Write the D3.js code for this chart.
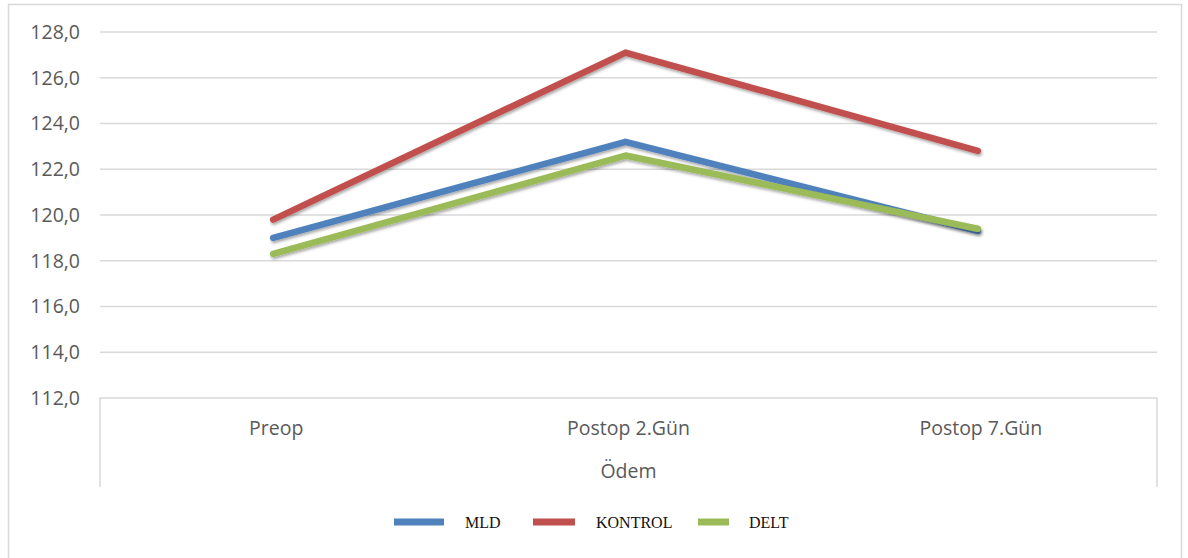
<!DOCTYPE html>
<html><head><meta charset="utf-8">
<script src="https://cdn.jsdelivr.net/npm/d3@7"></script>
<style>body{margin:0;background:#fff}svg{display:block}</style>
</head><body>
<svg id="c" width="1188" height="558"></svg>
<script>
const categories = ["Preop", "Postop 2.Gün", "Postop 7.Gün"];
const seriesNames = ["MLD", "KONTROL", "DELT"];
const MLD = [119.0, 123.2, 119.3];
const KONTROL = [119.8, 127.1, 122.8];
const DELT = [118.3, 122.6, 119.4];
const yTicks = [112, 114, 116, 118, 120, 122, 124, 126, 128];
const axisTitle = "Ödem";
const colors = ["#4F81BD", "#C0504D", "#9BBB59"];

const series = [MLD, KONTROL, DELT].map((v, i) => ({name: seriesNames[i], values: v, color: colors[i]}));

const svg = d3.select("#c");
const L = 100, R = 1157, T = 32, B = 398;
const fmt = d => d.toFixed(1).replace(".", ",");
const font = "'Open Sans', sans-serif";

// outer border
svg.append("path").attr("d", "M8.5,560 V4.5 H1181.5 V560").attr("fill", "none").attr("stroke", "#d9d9d9").attr("stroke-width", 1.5);

const x = d3.scaleBand().domain(categories).range([L, R]);
const y = d3.scaleLinear().domain([112, 128]).range([B, T]);

// gridlines
svg.append("g").selectAll("line").data(yTicks.filter(t => t > 112)).join("line")
  .attr("x1", L).attr("x2", R).attr("y1", d => y(d)).attr("y2", d => y(d))
  .attr("stroke", "#d9d9d9").attr("stroke-width", 1.5);

// y axis labels
const ya = svg.append("g").attr("transform", `translate(${L},0)`)
  .call(d3.axisLeft(y).tickValues(yTicks).tickFormat(fmt).tickSize(0).tickPadding(20));
ya.select(".domain").remove();
ya.selectAll("text").attr("font-family", font).attr("font-size", 19.5).attr("fill", "#595959");

// category axis box
svg.append("path").attr("d", `M${L},487 V${B} H${R} V487`).attr("fill", "none").attr("stroke", "#d9d9d9").attr("stroke-width", 1.5);
const xa = svg.append("g").attr("transform", `translate(0,${B})`)
  .call(d3.axisBottom(x).tickSize(0).tickPadding(23));
xa.select(".domain").remove();
xa.selectAll("text").attr("font-family", font).attr("font-size", 19.5).attr("fill", "#595959");
svg.append("text").attr("x", (L + R) / 2).attr("y", 478).attr("text-anchor", "middle")
  .attr("font-family", font).attr("font-size", 19.5).attr("fill", "#595959").text(axisTitle);

// lines
const line = d3.line().x((d, i) => x(categories[i]) + x.bandwidth() / 2 - 3).y(d => y(d));
const defs = svg.append("defs");
defs.append("filter").attr("id", "sh").attr("x", "-10%").attr("y", "-10%").attr("width", "120%").attr("height", "130%")
  .append("feDropShadow").attr("dx", 1).attr("dy", 2).attr("stdDeviation", 1.5).attr("flood-color", "#000").attr("flood-opacity", 0.35);
const lg = svg.append("g");
[0, 2, 1].forEach(i => {
  const s = series[i];
  lg.append("path").attr("d", line(s.values)).attr("fill", "none").attr("stroke", s.color)
    .attr("stroke-width", 6.5).attr("stroke-linecap", "round").attr("stroke-linejoin", "round")
    .attr("filter", "url(#sh)");
});

// legend
const legX = [394, 533, 698], legW = [50, 42, 31], legT = [465, 596, 749];
const leg = svg.append("g");
series.forEach((s, i) => {
  leg.append("line").attr("x1", legX[i]).attr("x2", legX[i] + legW[i]).attr("y1", 522).attr("y2", 522)
    .attr("stroke", s.color).attr("stroke-width", 7);
  leg.append("text").attr("x", legT[i]).attr("y", 527.5).attr("font-family", "'Liberation Serif', serif")
    .attr("font-size", 16).attr("fill", "#111").text(s.name);
});
</script>
</body></html>
